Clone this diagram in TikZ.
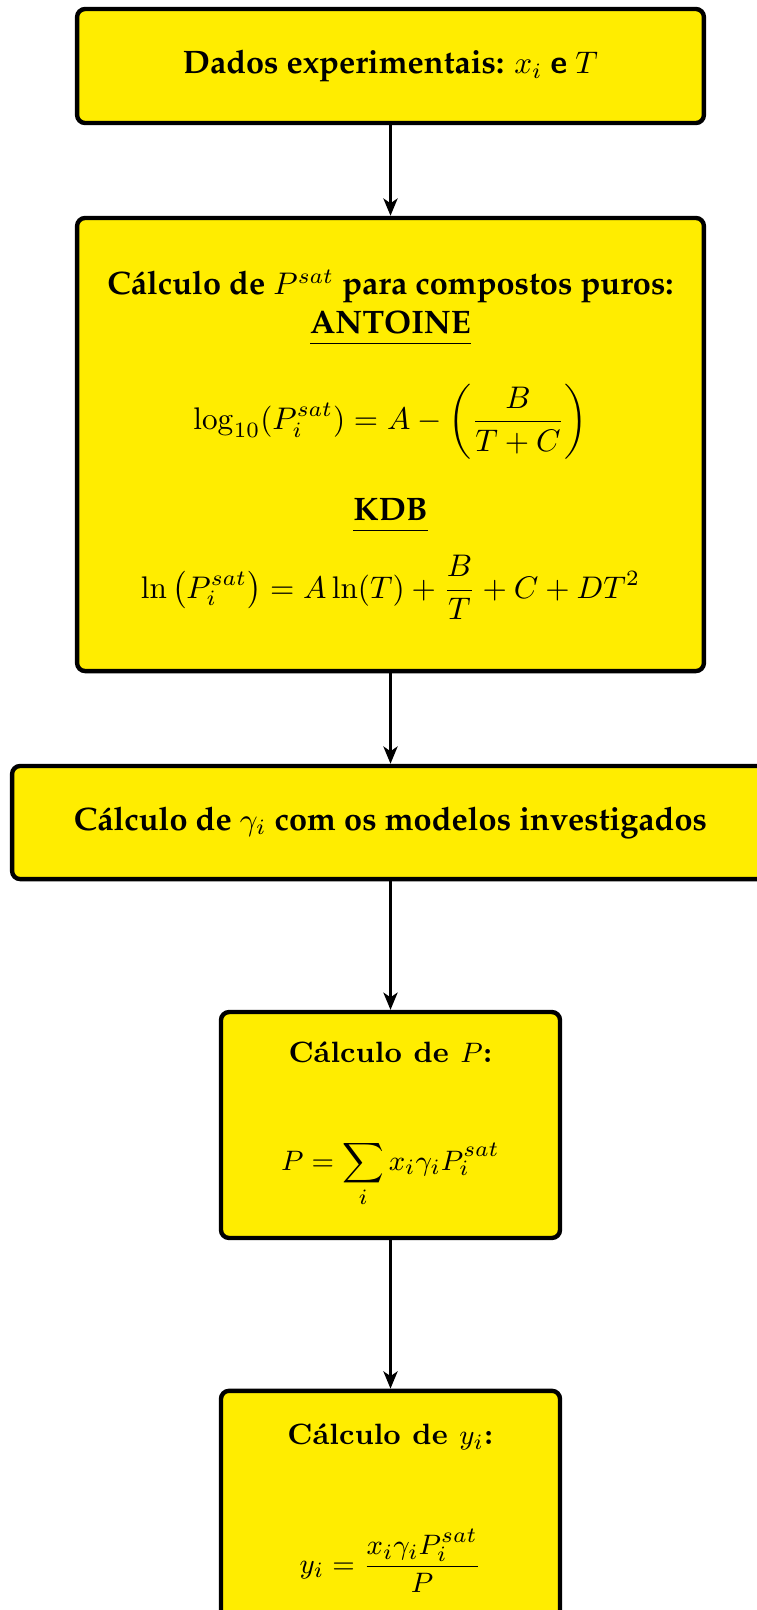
\documentclass[tikz,border=0pt]{standalone}
\usepackage[T1,TU]{fontenc}
\usepackage{amsmath}
\usetikzlibrary{arrows.meta}
\definecolor{boxyellow}{RGB}{255,237,0}
\newcommand{\pala}{\fontencoding{T1}\fontfamily{ppl}\fontsize{10.4}{12.5}\selectfont\bfseries}
\newcommand{\cmbold}{\fontsize{9.4}{11.3}\selectfont\bfseries}
\newcommand{\lowline}[1]{\underline{#1\vphantom{\rule[-1.8pt]{0pt}{0pt}}}}
\begin{document}
\begin{tikzpicture}[x=0.32pt, y=-0.32pt,
		every node/.style={draw=black, fill=boxyellow, rounded corners=2.6pt, align=center, inner sep=0pt},
		every path/.style={line width=1.4pt},
		flow/.style={-{Stealth[length=5.5pt, width=4.5pt, inset=1.5pt]}, line width=1pt}]
			\useasboundingbox (0,0) rectangle (757,1610);
			\node[minimum width=200.6pt, minimum height=36.5pt, font=\pala] (dados) at (390.5,66)
				{Dados experimentais: $x_i$ \textsf{\fontencoding{TU}\selectfont\bfseries e} $T$};
			\node[minimum width=200.6pt, minimum height=145pt, font=\pala] (psat) at (390.5,444.5)
				{C\'alculo de $P^{sat}$ para compostos puros:\\
				\lowline{ANTOINE}\\[11.5pt]
				$\displaystyle \log_{10}(P_i^{sat}) = A - \left(\frac{B}{T+C}\right)$\\[11.5pt]
				\lowline{KDB}\\[6.5pt]
				$\displaystyle \ln\left(P_i^{sat}\right) = A\ln(T) + \frac{B}{T} + C + DT^2$};
			\node[minimum width=242.2pt, minimum height=36.2pt, font=\pala] (gama) at (390.5,822.5)
				{C\'alculo de $\gamma_i$ com os modelos investigados};
			\node[minimum width=108.5pt, minimum height=72.3pt, font=\cmbold] (pres) at (390.5,1125)
				{C\'alculo de $P$:\\[23pt]
				$\displaystyle P = \sum_i x_i\gamma_i P_i^{sat}$};
			\node[minimum width=108.5pt, minimum height=75pt, font=\cmbold] (frac) at (390.5,1508)
				{C\'alculo de $y_i$:\\[24.4pt]
				$\displaystyle y_i = \frac{x_i\gamma_i P_i^{sat}}{P}$};
			\draw[flow] (dados)--(psat);
			\draw[flow] (psat)--(gama);
			\draw[flow] (gama)--(pres);
			\draw[flow] (pres)--(frac);
		\end{tikzpicture}
\end{document}
